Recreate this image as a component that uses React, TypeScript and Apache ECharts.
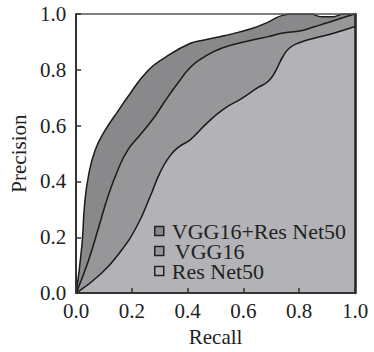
import React, { useEffect, useRef } from "react";
import * as echarts from "echarts";

const seriesNames = ["VGG16+Res Net50", "VGG16", "Res Net50"];
const fillColors = ["#89898c", "#97979a", "#b3b3b7"];

const comboRecall = [0, 0.021, 0.03, 0.044, 0.068, 0.103, 0.15, 0.19, 0.257, 0.32, 0.41, 0.46, 0.53, 0.63, 0.69, 0.74, 0.78, 0.84, 0.88, 0.92, 0.96, 1.0];
const comboPrecision = [0, 0.175, 0.314, 0.419, 0.512, 0.582, 0.652, 0.71, 0.797, 0.845, 0.895, 0.907, 0.922, 0.948, 0.972, 0.995, 1.0, 1.0, 0.99, 0.99, 1.0, 1.0];

const vggRecall = [0, 0.044, 0.08, 0.115, 0.15, 0.185, 0.232, 0.28, 0.32, 0.363, 0.41, 0.456, 0.526, 0.632, 0.69, 0.737, 0.807, 0.854, 0.912, 0.95, 1.0];
const vggPrecision = [0, 0.116, 0.233, 0.349, 0.442, 0.512, 0.57, 0.63, 0.69, 0.75, 0.809, 0.844, 0.879, 0.907, 0.919, 0.931, 0.94, 0.954, 0.972, 0.985, 1.0];

const resRecall = [0, 0.09, 0.16, 0.22, 0.265, 0.3, 0.335, 0.37, 0.41, 0.47, 0.53, 0.59, 0.65, 0.69, 0.715, 0.74, 0.765, 0.8, 0.86, 0.92, 1.0];
const resPrecision = [0, 0.07, 0.15, 0.244, 0.345, 0.43, 0.49, 0.525, 0.55, 0.61, 0.66, 0.695, 0.735, 0.76, 0.795, 0.845, 0.878, 0.897, 0.915, 0.93, 0.955];

const tickValues = [0, 0.2, 0.4, 0.6, 0.8, 1.0];

const FONT = "Liberation Serif";

function pairs(xs: number[], ys: number[]) {
  return xs.map((x, i) => [x, ys[i]]);
}

export default function App() {
  const ref = useRef<HTMLDivElement>(null);
  useEffect(() => {
    if (!ref.current) return;
    const chart = echarts.init(ref.current, null, { renderer: "svg" });
    const datasets = [
      pairs(comboRecall, comboPrecision),
      pairs(vggRecall, vggPrecision),
      pairs(resRecall, resPrecision),
    ];
    const axisCommon = {
      type: "value" as const,
      min: tickValues[0],
      max: tickValues[tickValues.length - 1],
      interval: 0.2,
      splitLine: { show: false },
    };
    chart.setOption({
      animation: false,
      backgroundColor: "#ffffff",
      grid: { left: 70, right: 19, top: 14, bottom: 52, containLabel: false },
      xAxis: [
        {
          ...axisCommon,
          position: "bottom",
          name: "Recall",
          nameLocation: "middle",
          nameGap: 25,
          nameTextStyle: { fontFamily: FONT, fontSize: 21, color: "#222" },
          axisLine: { show: true, onZero: false, lineStyle: { color: "#333", width: 2 } },
          axisTick: { show: true, inside: true, length: 5, lineStyle: { color: "#333", width: 1.5 } },
          axisLabel: {
            fontFamily: FONT,
            fontSize: 21,
            color: "#222",
            margin: 7,
            formatter: (v: number) => v.toFixed(1),
          },
          z: 10,
        },
        {
          ...axisCommon,
          position: "top",
          axisLine: { show: true, onZero: false, lineStyle: { color: "#555", width: 1.5 } },
          axisTick: { show: false },
          axisLabel: { show: false },
          z: 10,
        },
      ],
      yAxis: [
        {
          ...axisCommon,
          position: "left",
          name: "Precision",
          nameLocation: "middle",
          nameGap: 44,
          nameTextStyle: { fontFamily: FONT, fontSize: 21, color: "#222" },
          axisLine: { show: true, onZero: false, lineStyle: { color: "#333", width: 2 } },
          axisTick: { show: true, inside: true, length: 5, lineStyle: { color: "#333", width: 1.5 } },
          axisLabel: {
            fontFamily: FONT,
            fontSize: 21,
            color: "#222",
            margin: 10,
            formatter: (v: number) => v.toFixed(1),
          },
          z: 10,
        },
        {
          ...axisCommon,
          position: "right",
          axisLine: { show: true, onZero: false, lineStyle: { color: "#222", width: 2.5 } },
          axisTick: { show: false },
          axisLabel: { show: false },
          z: 10,
        },
      ],
      legend: {
        orient: "vertical",
        left: 154,
        top: 220,
        padding: 0,
        z: 20,
        icon: "rect",
        itemWidth: 9,
        itemHeight: 9,
        itemGap: -2,
        itemStyle: { borderColor: "#222", borderWidth: 1.5 },
        lineStyle: { width: 0 },
        textStyle: {
          fontFamily: FONT,
          fontSize: 22,
          lineHeight: 18,
          color: "#222",
          padding: [0, 0, 0, 3],
        },
        data: [
          { name: seriesNames[0] },
          { name: seriesNames[1], textStyle: { padding: [0, 0, 0, 6] } },
          { name: seriesNames[2] },
        ],
      },
      series: datasets.map((d, i) => ({
        type: "line",
        name: seriesNames[i],
        data: d,
        smooth: 0.5,
        symbol: "none",
        xAxisIndex: 0,
        yAxisIndex: 0,
        itemStyle: { color: fillColors[i] },
        lineStyle: { color: "#1a1a1a", width: 1.5 },
        areaStyle: { color: fillColors[i], opacity: 1, origin: "start" },
        z: 2 + i,
      })),
    });
    return () => chart.dispose();
  }, []);
  return (
    <div
      ref={ref}
      style={{ position: "fixed", left: 0, top: 0, width: 374, height: 352 }}
    />
  );
}
